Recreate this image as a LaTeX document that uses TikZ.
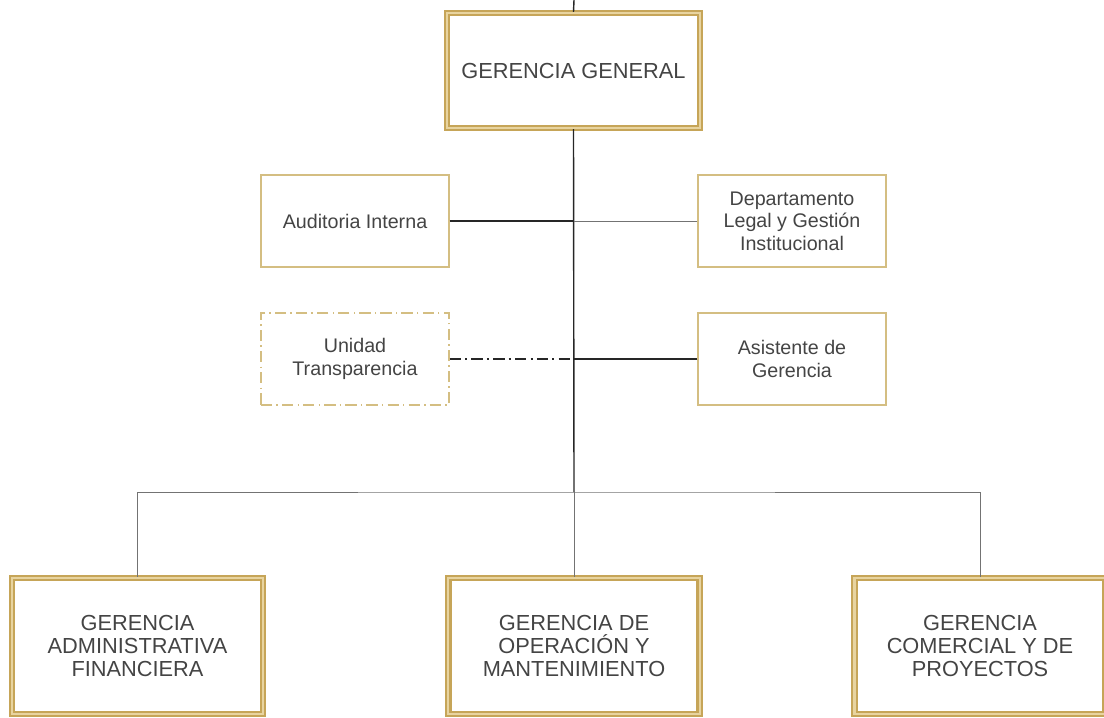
\documentclass[tikz,border=0pt]{standalone}
\usepackage{fontspec}
\setmainfont{Liberation Sans}
\usepackage{tikz}
\usetikzlibrary{positioning, calc}
\definecolor{oro}{RGB}{198,165,88}
\definecolor{oroclaro}{RGB}{232,212,160}
\definecolor{oropalido}{RGB}{212,190,130}
\definecolor{texto}{RGB}{68,68,68}
\tikzstyle{gerencia} = [rectangle, minimum width=6.28cm, minimum height=3.4cm, text centered, align=center, draw=oro, line width=1.5pt, double=oroclaro, double distance=1.6pt, text=texto, font=\fontsize{15.5}{16.5}\selectfont]
\tikzstyle{staff} = [rectangle, minimum width=4.7cm, minimum height=2.3cm, text centered, align=center, draw=oropalido, line width=0.9pt, text=texto, font=\fontsize{14}{16}\selectfont]
\tikzstyle{unidad} = [staff, dash pattern=on 8pt off 3pt on 1pt off 3pt]
\tikzstyle{linea} = [line width=1pt, black!85]
\tikzstyle{lineagris} = [line width=0.6pt, black!55]
\tikzstyle{lineapunto} = [line width=0.8pt, black!85, dash pattern=on 8pt off 3pt on 1.5pt off 3pt]

\begin{document}
\begin{tikzpicture}[x=0.025cm, y=-0.025cm]
\useasboundingbox (0,0) rectangle (1104,717);
\node (general) [gerencia, minimum width=6.33cm, minimum height=2.88cm] at (573.5,70.5) {GERENCIA GENERAL};
\node (auditoria) [staff] at (355,221) {Auditoria Interna};
\node (legal) [staff] at (792,221) {Departamento\\Legal y Gestión\\Institucional};
\node (transparencia) [unidad] at (355,359) {Unidad\\Transparencia};
\node (asistente) [staff] at (792,359) {Asistente de\\Gerencia};
\node (financiera) [gerencia] at (137.5,646) {GERENCIA\\ADMINISTRATIVA\\FINANCIERA};
\node (operacion) [gerencia] at (574,646) {GERENCIA DE\\OPERACIÓN Y\\MANTENIMIENTO};
\node (comercial) [gerencia] at (980,646) {GERENCIA\\COMERCIAL Y DE\\PROYECTOS};
\coordinate (entrada) at (574,0);
\coordinate (bus) at (574,492);

\draw [linea] (entrada) -- (general.north);
\draw [linea] (general.south) -- (bus);
\draw [linea] (auditoria.east) -- (auditoria.east -| general.south);
\draw [lineagris] (legal.west) -- (legal.west -| general.south);
\draw [lineapunto] (transparencia.east) -- (transparencia.east -| general.south);
\draw [linea] (asistente.west) -- (asistente.west -| general.south);
\draw [lineagris] (financiera.north) |- (bus) -| (comercial.north);
\draw [lineagris] (bus) -- (operacion.north);
\end{tikzpicture}
\end{document}
